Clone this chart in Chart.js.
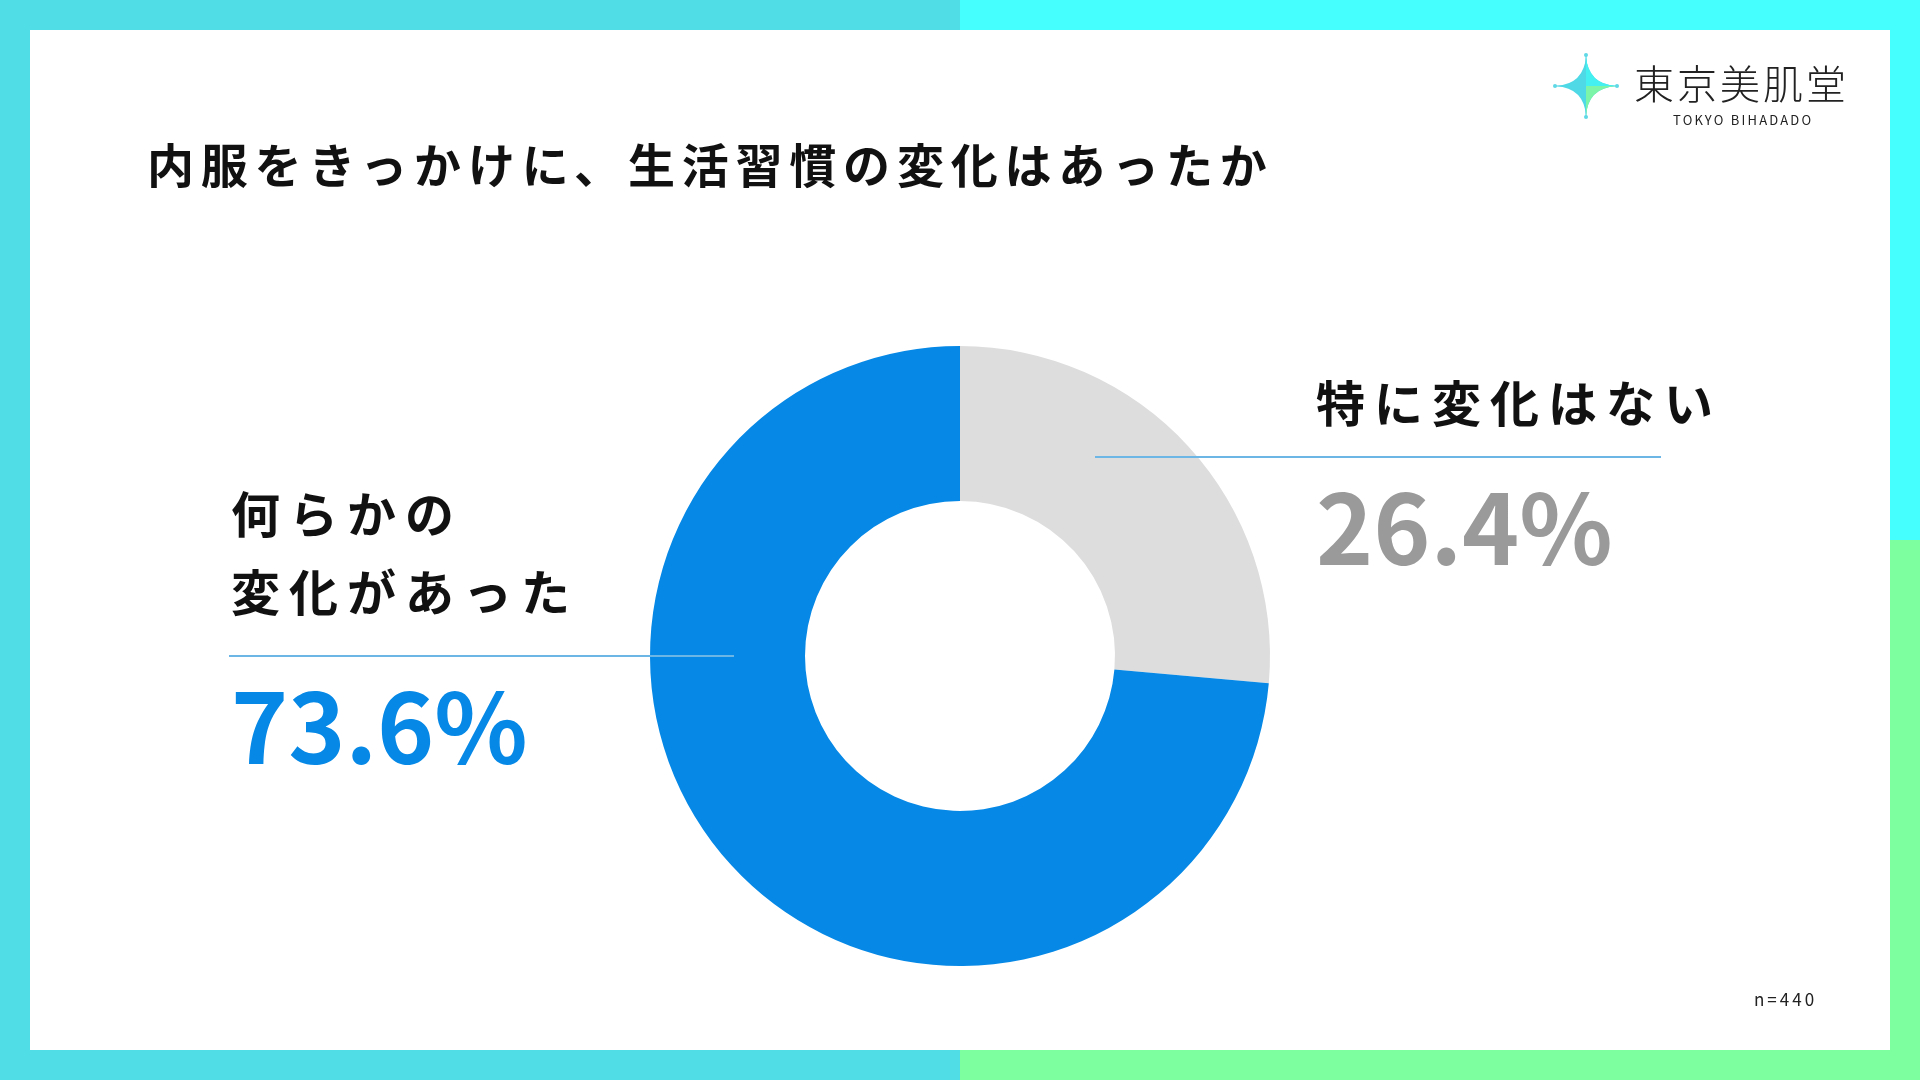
<!DOCTYPE html>
<html lang="ja">
<head>
<meta charset="utf-8">
<script src="https://cdn.jsdelivr.net/npm/chart.js@4"></script>
<style>
  html, body { margin: 0; padding: 0; }
  body { width: 1920px; height: 1080px; position: relative; overflow: hidden; background: #fff;
         font-family: "Noto Sans CJK JP", "Noto Sans", sans-serif; color: #111; }
  .bar { position: absolute; }
  #chart { position: absolute; left: 0; top: 0; }
  .txt { position: absolute; white-space: nowrap; line-height: 1; font-weight: 700; }
  .rule { position: absolute; height: 2px; background: #6cb6e6; }
</style>
</head>
<body>
<!-- frame -->
<div class="bar" style="left:0;top:0;width:960px;height:30px;background:#50dde6"></div>
<div class="bar" style="left:960px;top:0;width:960px;height:30px;background:#45ffff"></div>
<div class="bar" style="left:0;top:0;width:30px;height:1080px;background:#50dde6"></div>
<div class="bar" style="left:1890px;top:0;width:30px;height:540px;background:#45ffff"></div>
<div class="bar" style="left:1890px;top:540px;width:30px;height:540px;background:#7dffa0"></div>
<div class="bar" style="left:0;top:1050px;width:960px;height:30px;background:#50dde6"></div>
<div class="bar" style="left:960px;top:1050px;width:960px;height:30px;background:#7dffa0"></div>

<canvas id="chart" width="1920" height="1080"></canvas>

<div class="txt" style="left:147px;top:139px;font-size:47px;letter-spacing:6.8px;color:#111">内服をきっかけに、生活習慣の変化はあったか</div>

<!-- logo -->
<svg style="position:absolute;left:1550px;top:50px" width="72" height="72" viewBox="0 0 72 72">
  <line x1="4" y1="36" x2="68" y2="36" stroke="#5fd9e6" stroke-width="1"/>
  <line x1="36" y1="4" x2="36" y2="68" stroke="#5fd9e6" stroke-width="1"/>
  <path d="M36 6 Q38 34 66 36 Q38 38 36 66 Q34 38 6 36 Q34 34 36 6 Z" fill="#4fd8e6"/>
  <path d="M36 6 Q38 34 66 36 L36 36 Z" fill="#45f0f0"/>
  <path d="M66 36 Q38 38 36 66 L36 36 Z" fill="#7df5a8"/>
  <circle cx="36" cy="5" r="2" fill="#5fd9e6"/><circle cx="36" cy="67" r="2" fill="#5fd9e6"/>
  <circle cx="5" cy="36" r="2" fill="#5fd9e6"/><circle cx="67" cy="36" r="2" fill="#5fd9e6"/>
</svg>
<div class="txt" style="left:1634px;top:62px;font-size:40px;font-weight:300;letter-spacing:3px;color:#222">東京美肌堂</div>
<div class="txt" style="left:1673px;top:113px;font-size:13px;font-weight:400;letter-spacing:2.2px;color:#222">TOKYO BIHADADO</div>

<div class="txt" id="n" style="left:1754px;top:990px;font-size:17px;font-weight:400;letter-spacing:3px;color:#222"></div>

<div id="labels"></div>

<script>
const categories = ['特に変化はない', '何らかの変化があった'];
const labelLines = [['特に変化はない'], ['何らかの', '変化があった']];
const values = [26.4, 73.6];
const colors = ['#dddddd', '#0588e6'];
const valueColors = ['#9a9a9a', '#0588e6'];
const sampleSize = 440;

document.getElementById('n').textContent = 'n=' + sampleSize;

// label blocks: name lines, leader rule, percentage
const labelSpots = [
  { x: 1316, nameTop: 376, ruleX: 1095, ruleW: 566, ruleY: 456, valTop: 474 },
  { x: 231, nameTop: 487, lineGap: 78, ruleX: 229, ruleW: 505, ruleY: 655, valTop: 673 }
];
const host = document.getElementById('labels');
labelSpots.forEach((s, i) => {
  labelLines[i].forEach((line, k) => {
    const d = document.createElement('div');
    d.className = 'txt';
    d.style.cssText = `left:${s.x}px;top:${s.nameTop + k * (s.lineGap || 0)}px;font-size:49px;letter-spacing:9px;color:#111`;
    d.textContent = line;
    host.appendChild(d);
  });
  const r = document.createElement('div');
  r.className = 'rule';
  r.style.cssText = `left:${s.ruleX}px;top:${s.ruleY}px;width:${s.ruleW}px`;
  host.appendChild(r);
  const v = document.createElement('div');
  v.className = 'txt';
  v.style.cssText = `left:${s.x}px;top:${s.valTop}px;font-size:97px;letter-spacing:0px;color:${valueColors[i]}`;
  v.textContent = values[i].toFixed(1) + '%';
  host.appendChild(v);
});

new Chart(document.getElementById('chart'), {
  type: 'doughnut',
  data: {
    labels: categories,
    datasets: [{
      data: values,
      backgroundColor: colors,
      borderWidth: 0
    }]
  },
  options: {
    responsive: false,
    devicePixelRatio: 1,
    animation: false,
    cutout: '50%',
    layout: { padding: { top: 346, bottom: 114, left: 0, right: 0 } },
    plugins: { legend: { display: false }, tooltip: { enabled: false } }
  }
});
</script>
</body>
</html>
